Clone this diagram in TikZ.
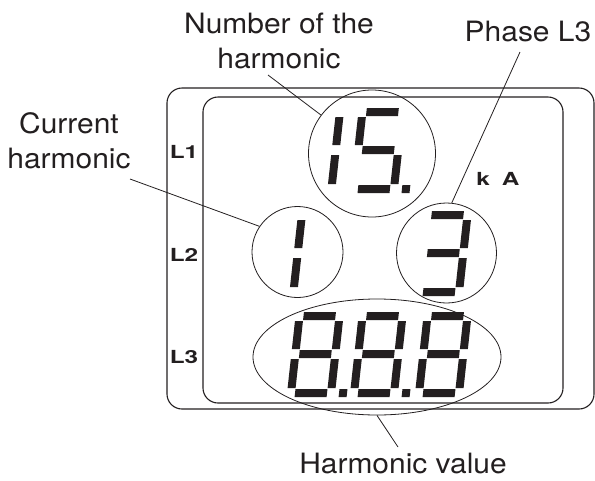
\documentclass[tikz,border=0pt]{standalone}
\usepackage{fontspec}
\setmainfont{TeX Gyre Heros}[FakeStretch=1.07]
\newfontfamily\panelfont{TeX Gyre Heros}[FakeStretch=1.35]
\usetikzlibrary{shapes.geometric}
\definecolor{inkblack}{HTML}{231F20}
\tikzset{
  lcdframe/.style={draw=inkblack, line width=1.1pt, rounded corners=15pt},
  zone/.style={draw=inkblack, line width=0.8pt, inner sep=0pt},
  calltext/.style={font=\fontsize{28}{35}\selectfont, text=inkblack,
                   align=center, inner sep=0pt},
  paneltag/.style={font=\panelfont\bfseries\fontsize{18}{18}\selectfont,
                   text=inkblack, inner sep=0pt},
  leader/.style={draw=inkblack, line width=0.8pt},
}
% seven-segment pieces, local units, v up
\newcommand{\segA}{\fill[inkblack] (0,77) rectangle (32,85);}
\newcommand{\segB}{\fill[inkblack] (32,48) rectangle (40,76);}
\newcommand{\segC}{\fill[inkblack] (32,9) rectangle (40,38);}
\newcommand{\segD}{\fill[inkblack] (0,0) rectangle (32,8);}
\newcommand{\segE}{\fill[inkblack] (-8,9) rectangle (0,38);}
\newcommand{\segF}{\fill[inkblack] (-8,48) rectangle (0,76);}
\newcommand{\segG}{\fill[inkblack] (0,39) rectangle (32,47);}
\newcommand{\segP}{\fill[inkblack] (44,0) rectangle (52,8);}
\newcommand{\lcddigit}[3]{%
  \begin{scope}[shift={(#1,-#2)}, xslant=0.11]
    \foreach \s in {#3} {\csname seg\s\endcsname}
  \end{scope}}

\begin{document}
\begin{tikzpicture}[x=1pt, y=1pt]
\useasboundingbox (0,0) rectangle (595,-480);

% ========================= display housing ===============================
\draw[lcdframe] (167,-88) rectangle (594,-409);
\draw[lcdframe] (203,-97) rectangle (563,-403);

\node[paneltag, anchor=base] (tagl1) at (184,-158) {L1};
\node[paneltag, anchor=base] (tagl2) at (184,-261) {L2};
\node[paneltag, anchor=base] (tagl3) at (184,-363) {L3};
\node[paneltag, anchor=base] (unit)  at (498,-185) {k\hspace{12pt}A};

% ========================= digits ========================================
\lcddigit{295}{193}{B,C}
\lcddigit{357.5}{193}{A,F,G,C,D,P}
\lcddigit{257}{296}{B,C}
\lcddigit{422.6}{296}{A,B,G,C,D}
\lcddigit{294.6}{397}{A,B,C,D,E,F,G,P}
\lcddigit{357.6}{397}{A,B,C,D,E,F,G,P}
\lcddigit{422.6}{397}{A,B,C,D,E,F,G}

% ========================= marked zones ==================================
\node[zone, circle, minimum size=127pt] (harmno) at (372,-153.5) {};
\node[zone, circle, minimum size=91pt]  (curr)   at (297.5,-252) {};
\node[zone, circle, minimum size=100pt] (phase)  at (446.5,-253) {};
\node[zone, ellipse, minimum width=248pt, minimum height=116pt]
                                        (value)  at (377,-357) {};

% ========================= call-outs =====================================
\node[calltext] (harmnolbl) at (279,-41) {Number of the\\harmonic};
\node[calltext, anchor=base] (phaselbl) at (528,-41) {Phase L3};
\node[calltext] (currlbl) at (69,-140.5) {Current\\harmonic};
\node[calltext, anchor=base] (valuelbl) at (403,-473) {Harmonic value};

\coordinate (harmnofoot) at (268,-75);
\coordinate (phasefoot)  at (520,-52);
\coordinate (currfoot)   at (130,-179);
\coordinate (valuefoot)  at (398,-447);

\draw[leader] (harmnofoot) -- (harmno.143);
\draw[leader] (phasefoot)  -- (phase.84);
\draw[leader] (currfoot)   -- (curr.146);
\draw[leader] (value.south) -- (valuefoot);
\end{tikzpicture}
\end{document}
